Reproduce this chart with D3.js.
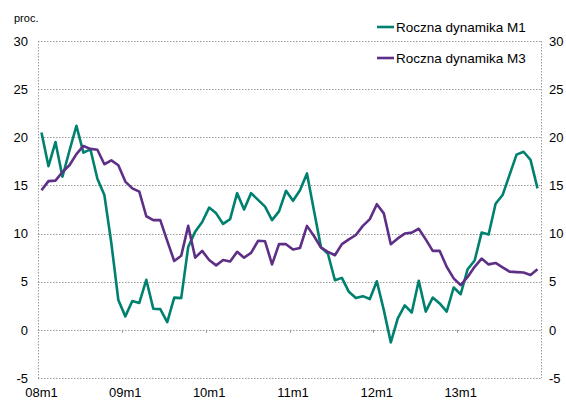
<!DOCTYPE html>
<html>
<head>
<meta charset="utf-8">
<script src="https://cdn.jsdelivr.net/npm/d3@7"></script>
<style>
  body { margin: 0; background: #fff; }
  text { font-family: "Liberation Sans", Arial, sans-serif; }
</style>
</head>
<body>
<script>
"use strict";

// yearly labels on the category axis
const yearLabels = ["08m1", "09m1", "10m1", "11m1", "12m1", "13m1"];
const yTicks = [-5, 0, 5, 10, 15, 20, 25, 30];

// monthly categories 08m1 .. 13m12
const months = [];
for (let y = 8; y <= 13; y++) {
  for (let m = 1; m <= 12; m++) {
    months.push((y < 10 ? "0" + y : "" + y) + "m" + m);
  }
}

const m1 = [20.5, 17.0, 19.5, 15.9, 18.6, 21.2, 18.4, 18.75, 15.7, 14.0, 9.0, 3.1,
            1.4, 3.0, 2.8, 5.2, 2.2, 2.15, 0.8, 3.35, 3.3, 8.6, 10.2, 11.2,
            12.7, 12.1, 11.0, 11.5, 14.2, 12.5, 14.2, 13.5, 12.8, 11.4, 12.3, 14.45,
            13.4, 14.5, 16.25, 12.4, 8.6, 7.9, 5.15, 5.4, 3.95, 3.3, 3.5, 3.2,
            5.05, 2.05, -1.3, 1.2, 2.55, 1.8, 5.1, 1.9, 3.35, 2.75, 1.9, 4.4,
            3.7, 6.3, 7.2, 10.1, 9.9, 13.1, 14.0, 16.1, 18.2, 18.5, 17.65, 14.7];

const m3 = [14.5, 15.45, 15.5, 16.4, 17.1, 18.25, 19.1, 18.8, 18.7, 17.2, 17.6, 17.1,
            15.4, 14.7, 14.35, 11.8, 11.4, 11.4, 9.25, 7.15, 7.7, 10.8, 7.5, 8.2,
            7.25, 6.7, 7.25, 7.1, 8.1, 7.5, 8.0, 9.25, 9.2, 6.8, 8.9, 8.9,
            8.35, 8.5, 10.8, 9.75, 8.55, 8.1, 7.75, 8.9, 9.4, 9.85, 10.8, 11.5,
            13.05, 12.1, 8.9, 9.5, 10.0, 10.1, 10.5, 9.4, 8.2, 8.2, 6.55, 5.35,
            4.65, 5.5, 6.55, 7.4, 6.8, 6.95, 6.5, 6.05, 6.0, 5.95, 5.7, 6.3];

const seriesNames = ["Roczna dynamika M1", "Roczna dynamika M3"];
const seriesColors = ["#00806F", "#5E2F86"];

const W = 566, H = 402;
const plot = { left: 38, right: 541, top: 41, bottom: 378 };

const svg = d3.select("body").append("svg")
  .attr("width", W)
  .attr("height", H);

const x = d3.scaleBand()
  .domain(months)
  .range([plot.left, plot.right]);

const y = d3.scaleLinear()
  .domain([-5, 30])
  .range([plot.bottom, plot.top]);

const cx = d => x(d) + x.bandwidth() / 2;

// horizontal dotted gridlines
svg.append("g").selectAll("line")
  .data(yTicks)
  .enter().append("line")
    .attr("x1", plot.left)
    .attr("x2", plot.right)
    .attr("y1", d => Math.round(y(d)) + 0.5)
    .attr("y2", d => Math.round(y(d)) + 0.5)
    .attr("stroke", "#9a9a9a")
    .attr("stroke-width", 1)
    .attr("stroke-dasharray", "1.5,1.5");

// left and right borders (dotted)
svg.append("g").selectAll("line")
  .data([plot.left, plot.right])
  .enter().append("line")
    .attr("x1", d => d + 0.5)
    .attr("x2", d => d + 0.5)
    .attr("y1", plot.top)
    .attr("y2", plot.bottom)
    .attr("stroke", "#9a9a9a")
    .attr("stroke-dasharray", "1.5,1.5");

// year tick marks sit on the zero line
const tickMonths = months.filter(m => m.endsWith("m1")).slice(1);
svg.append("g").selectAll("line")
  .data(tickMonths)
  .enter().append("line")
    .attr("x1", d => Math.round(x(d)) + 0.5)
    .attr("x2", d => Math.round(x(d)) + 0.5)
    .attr("y1", y(0))
    .attr("y2", y(0) + 3)
    .attr("stroke", "#9a9a9a");

// y labels left and right, plain hyphen for negatives
const fmt = d => String(d);
const yAxisL = d3.axisLeft(y).tickValues(yTicks).tickFormat(fmt).tickSize(0).tickPadding(10);
const yAxisR = d3.axisRight(y).tickValues(yTicks).tickFormat(fmt).tickSize(0).tickPadding(8);

svg.append("g")
  .attr("transform", "translate(" + plot.left + ",0)")
  .call(yAxisL)
  .call(g => g.select(".domain").remove())
  .selectAll("text")
    .attr("font-size", 13)
    .attr("font-family", "Liberation Sans, Arial, sans-serif")
    .attr("fill", "#000");

svg.append("g")
  .attr("transform", "translate(" + plot.right + ",0)")
  .call(yAxisR)
  .call(g => g.select(".domain").remove())
  .selectAll("text")
    .attr("font-size", 13)
    .attr("font-family", "Liberation Sans, Arial, sans-serif")
    .attr("fill", "#000");

// x labels (year starts)
const xAxis = d3.axisBottom(x).tickValues(yearLabels).tickSize(0).tickPadding(10);
svg.append("g")
  .attr("transform", "translate(0," + plot.bottom + ")")
  .call(xAxis)
  .call(g => g.select(".domain").remove())
  .selectAll("text")
    .attr("font-size", 13)
    .attr("font-family", "Liberation Sans, Arial, sans-serif")
    .attr("fill", "#000");

// the lines
const line = d3.line()
  .x((d, i) => cx(months[i]))
  .y(d => y(d));

[m1, m3].forEach((s, k) => {
  svg.append("path")
    .datum(s)
    .attr("fill", "none")
    .attr("stroke", seriesColors[k])
    .attr("stroke-width", 2.6)
    .attr("stroke-linejoin", "round")
    .attr("d", line);
});

// unit label
svg.append("text")
  .attr("x", 14)
  .attr("y", 22)
  .attr("font-size", 11)
  .text("proc.");

// legend
const legend = svg.append("g");
const legendY = [27, 58];
seriesNames.forEach((name, k) => {
  legend.append("line")
    .attr("x1", 377)
    .attr("x2", 394)
    .attr("y1", legendY[k])
    .attr("y2", legendY[k])
    .attr("stroke", seriesColors[k])
    .attr("stroke-width", 2.6);
  legend.append("text")
    .attr("x", 396)
    .attr("y", legendY[k] + 5)
    .attr("font-size", 13.5)
    .text(name);
});
</script>
</body>
</html>
